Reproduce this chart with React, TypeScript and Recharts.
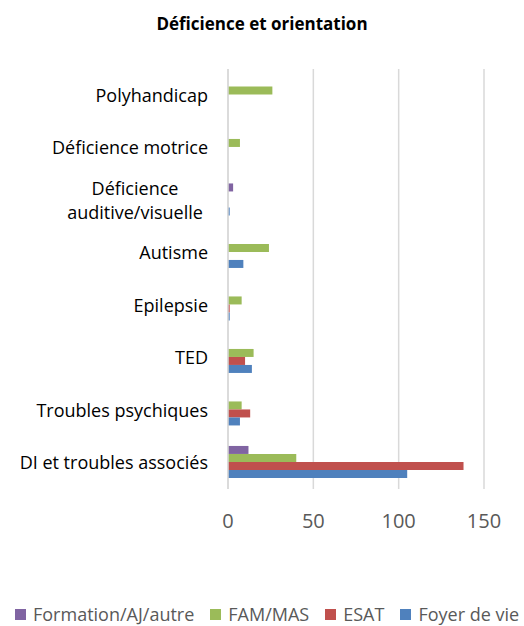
import { BarChart, Bar, XAxis, YAxis, CartesianGrid, Legend } from 'recharts'

const categories = [
    'Polyhandicap',
    'Déficience motrice',
    'Déficience auditive/visuelle',
    'Autisme',
    'Epilepsie',
    'TED',
    'Troubles psychiques',
    'DI et troubles associés',
]

const formation = [0, 0, 3, 0, 0, 0, 0, 12]
const famMas = [26, 7, 0, 24, 8, 15, 8, 40]
const esat = [0, 0, 0, 0, 1, 10, 13, 138]
const foyer = [0, 0, 1, 9, 1, 14, 7, 105]

const xTicks = [0, 50, 100, 150]

const SERIES = [
    { key: 'formation', name: 'Formation/AJ/autre', color: '#8064A2', values: formation },
    { key: 'famMas', name: 'FAM/MAS', color: '#9BBB59', values: famMas },
    { key: 'esat', name: 'ESAT', color: '#C0504D', values: esat },
    { key: 'foyer', name: 'Foyer de vie', color: '#4F81BD', values: foyer },
]

const data = categories.map((c, i) => {
    const row: Record<string, string | number> = { name: c }
    SERIES.forEach((s) => { row[s.key] = s.values[i] })
    return row
})

const FONT = '"Open Sans", sans-serif'

function CategoryTick(props: any) {
    const { x, y, payload } = props
    const label: string = payload.value
    // long labels wrap on two centred lines, like the original
    if (label.length > 24) {
        const cut = label.indexOf(' ')
        const lines = [label.slice(0, cut), label.slice(cut + 1)]
        return (
            <text x={x - 85} y={y} textAnchor="middle" fontSize={18} fill="#000" fontFamily={FONT}>
                <tspan x={x - 85} dy="-0.3em">{lines[0]}</tspan>
                <tspan x={x - 85} dy="1.33em">{lines[1]}</tspan>
            </text>
        )
    }
    return (
        <text x={x - 12} y={y} dy="0.35em" textAnchor="end" fontSize={18} fill="#000" fontFamily={FONT}>
            {label}
        </text>
    )
}

function LegendContent() {
    return (
        <div style={{ height: 30, boxSizing: 'border-box', paddingTop: 6, paddingLeft: 15, display: 'flex', alignItems: 'center', whiteSpace: 'nowrap', fontFamily: FONT, fontSize: 18, lineHeight: '22px', color: '#595959' }}>
            {SERIES.map((s, i) => (
                <span key={s.key} style={{ display: 'flex', alignItems: 'center', flexShrink: 0, marginRight: i < SERIES.length - 1 ? 16 : 0 }}>
                    <span style={{ width: 11, height: 11, background: s.color, marginRight: 7, display: 'inline-block', flexShrink: 0 }} />
                    {s.name}
                </span>
            ))}
        </div>
    )
}

export default function App() {
    return (
        <div style={{ position: 'absolute', top: 0, left: 0, width: 524, height: 626, background: '#fff', overflow: 'hidden' }}>
            <div style={{ position: 'absolute', top: 13, left: 0, width: 524, textAlign: 'center', fontFamily: FONT, fontWeight: 700, fontSize: 17, lineHeight: '22px', color: '#000' }}>
                Déficience et orientation
            </div>
            <BarChart
                width={524}
                height={626}
                data={data}
                layout="vertical"
                margin={{ top: 69, right: 40, bottom: 0, left: 0 }}
                barCategoryGap="18%"
                barGap={0}
            >
                <CartesianGrid horizontal={false} stroke="#d9d9d9" strokeWidth={1.5} />
                <XAxis
                    type="number"
                    domain={[0, 150]}
                    ticks={xTicks}
                    interval={0}
                    height={107}
                    axisLine={false}
                    tickLine={false}
                    tickMargin={19}
                    tick={{ fontSize: 20, fill: '#595959', fontFamily: FONT }}
                />
                <YAxis
                    type="category"
                    dataKey="name"
                    width={228}
                    interval={0}
                    tickLine={false}
                    axisLine={{ stroke: '#d9d9d9', strokeWidth: 1.5 }}
                    tick={<CategoryTick />}
                />
                <Legend verticalAlign="bottom" height={30} wrapperStyle={{ left: 0, width: 524 }} content={<LegendContent />} />
                {SERIES.map((s) => (
                    <Bar key={s.key} dataKey={s.key} name={s.name} fill={s.color} isAnimationActive={false} />
                ))}
            </BarChart>
        </div>
    )
}
